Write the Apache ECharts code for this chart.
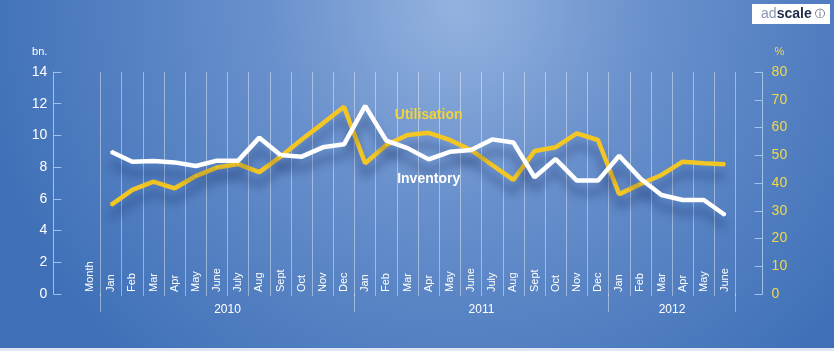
<!DOCTYPE html>
<html>
<head>
<meta charset="utf-8">
<script src="https://cdn.jsdelivr.net/npm/echarts@6/dist/echarts.min.js"></script>
<style>
  html, body { margin: 0; padding: 0; background: #dfe7f3; }
  #chart { width: 834px; height: 348px; }
</style>
</head>
<body>
<div id="chart"></div>
<script>
// month categories, first column only carries the "Month" heading
const monthNames = ['Jan', 'Feb', 'Mar', 'Apr', 'May', 'June', 'July', 'Aug', 'Sept', 'Oct', 'Nov', 'Dec'];
const years = ['2010', '2011', '2012'];
const monthsPerYear = [12, 12, 6];

// inventory in bn. (left axis)
const inventory = [8.97, 8.34, 8.39, 8.3, 8.07, 8.41, 8.41, 9.86, 8.77, 8.66, 9.25, 9.44,
  11.86, 9.67, 9.2, 8.49, 8.97, 9.08, 9.75, 9.56, 7.36, 8.51, 7.15, 7.15,
  8.72, 7.29, 6.24, 5.93, 5.93, 4.98];
// utilisation in % (right axis)
const utilisation = [32.1, 37.5, 40.5, 38.1, 42.5, 45.6, 46.8, 43.9, 49.5, 55.7, 61.5, 67.5,
  47.1, 53.7, 57.3, 58.1, 55.5, 51.9, 46.5, 41.1, 51.5, 52.9, 57.9, 55.5,
  36.0, 39.6, 42.9, 47.7, 47.1, 46.8];

const labelMonth = 'Apr'; // where the series names sit (Apr 2011)
const labelYear = '2011';

// build category list + year label row
let categories = ['Month'];
let yearRow = [''];
let yearStarts = [];
years.forEach((y, k) => {
  yearStarts.push(categories.length);
  for (let m = 0; m < monthsPerYear[k]; m++) {
    categories.push(monthNames[m]);
    yearRow.push('');
  }
});
years.forEach((y, k) => {
  let mid = Math.floor(yearStarts[k] + (monthsPerYear[k] - 1) / 2);
  yearRow[mid] = y;
});
const labelIdx = yearStarts[years.indexOf(labelYear)] + monthNames.indexOf(labelMonth);

const font = 'Liberation Sans Narrow, Liberation Sans, sans-serif';
const gridLine = 'rgba(255,255,255,0.42)';
const axisBlue = 'rgba(175,205,245,0.85)';

let chart = echarts.init(document.getElementById('chart'));

chart.setOption({
  animation: false,
  backgroundColor: {
    type: 'radial', x: 0.55, y: 0.02, r: 1.4,
    colorStops: [
      {offset: 0, color: '#94b2df'},
      {offset: 0.4, color: '#6890cc'},
      {offset: 1, color: '#3f70b7'}
    ]
  },
  textStyle: {fontFamily: font},
  grid: {left: 79.4, right: 98.4, top: 72, bottom: 54},
  xAxis: [
    {
      type: 'category',
      data: categories,
      boundaryGap: true,
      position: 'bottom',
      axisLine: {show: false},
      axisTick: {show: true, length: 2, interval: (i) => i >= 1, lineStyle: {color: gridLine}},
      axisLabel: {inside: true, rotate: 90, interval: 0, margin: 2, color: '#ffffff', fontSize: 11, fontFamily: font},
      splitLine: {show: true, interval: (i) => i >= 1, lineStyle: {color: gridLine, width: 1}}
    },
    {
      type: 'category',
      data: yearRow,
      boundaryGap: true,
      position: 'bottom',
      axisLine: {show: false},
      axisTick: {show: true, length: 18, interval: (i) => yearStarts.indexOf(i) >= 0, lineStyle: {color: gridLine}},
      axisLabel: {interval: 0, margin: 10, color: '#ffffff', fontSize: 12, fontFamily: font, padding: [0, 0, 0, 21]},
      splitLine: {show: false}
    }
  ],
  yAxis: [
    {
      type: 'value', min: 0, max: 14, interval: 2,
      position: 'left', offset: 26,
      name: 'bn.', nameGap: 15,
      nameTextStyle: {color: '#ffffff', fontSize: 11, align: 'right', padding: [0, 6, 0, 0], fontFamily: font},
      axisLine: {show: true, lineStyle: {color: axisBlue}},
      axisTick: {show: true, inside: true, length: 8, lineStyle: {color: axisBlue}},
      axisLabel: {color: '#ffffff', fontSize: 14, margin: 6, fontFamily: font},
      splitLine: {show: false}
    },
    {
      type: 'value', min: 0, max: 80, interval: 10,
      position: 'right', offset: 27,
      name: '%', nameGap: 15,
      nameTextStyle: {color: '#f0d84a', fontSize: 11, align: 'left', padding: [0, 0, 0, 12], fontFamily: font},
      axisLine: {show: true, lineStyle: {color: axisBlue}},
      axisTick: {show: true, inside: true, length: 8, lineStyle: {color: axisBlue}},
      axisLabel: {color: '#f0d84a', fontSize: 14, margin: 9, fontFamily: font},
      splitLine: {show: false}
    }
  ],
  series: [
    {
      name: 'Utilisation',
      type: 'line',
      xAxisIndex: 0, yAxisIndex: 1,
      data: [null].concat(utilisation),
      symbol: 'circle', symbolSize: 2, showSymbol: true,
      itemStyle: {color: '#f3c624'},
      lineStyle: {color: '#f3c624', width: 4.5, shadowColor: 'rgba(15,35,90,0.45)', shadowBlur: 10, shadowOffsetY: 12},
      label: {
        show: true, position: 'top', distance: 10,
        formatter: (p) => p.dataIndex === labelIdx ? 'Utilisation' : '',
        color: '#f3d23a', fontSize: 14, fontWeight: 'bold', fontFamily: font
      },
      emphasis: {disabled: true}
    },
    {
      name: 'Inventory',
      type: 'line',
      xAxisIndex: 0, yAxisIndex: 0,
      data: [null].concat(inventory),
      symbol: 'circle', symbolSize: 2, showSymbol: true,
      itemStyle: {color: '#ffffff'},
      lineStyle: {color: '#ffffff', width: 4.5, shadowColor: 'rgba(15,35,90,0.45)', shadowBlur: 10, shadowOffsetY: 12},
      label: {
        show: true, position: 'bottom', distance: 12,
        formatter: (p) => p.dataIndex === labelIdx ? 'Inventory' : '',
        color: '#ffffff', fontSize: 14, fontWeight: 'bold', fontFamily: font
      },
      emphasis: {disabled: true}
    }
  ],
  graphic: [
    {
      type: 'rect', right: 4, top: 4, z: 10,
      shape: {width: 78, height: 20},
      style: {fill: '#ffffff'}
    },
    {
      type: 'text', right: 9, top: 7, z: 11,
      style: {
        text: '{a|ad}{b|scale} {c|ⓘ}',
        rich: {
          a: {fill: '#8c97ad', fontSize: 14, fontFamily: 'Liberation Sans'},
          b: {fill: '#1f2b48', fontSize: 14, fontWeight: 'bold', fontFamily: 'Liberation Sans'},
          c: {fill: '#1f2b48', fontSize: 10, fontFamily: 'DejaVu Sans'}
        }
      }
    }
  ]
});
</script>
</body>
</html>
